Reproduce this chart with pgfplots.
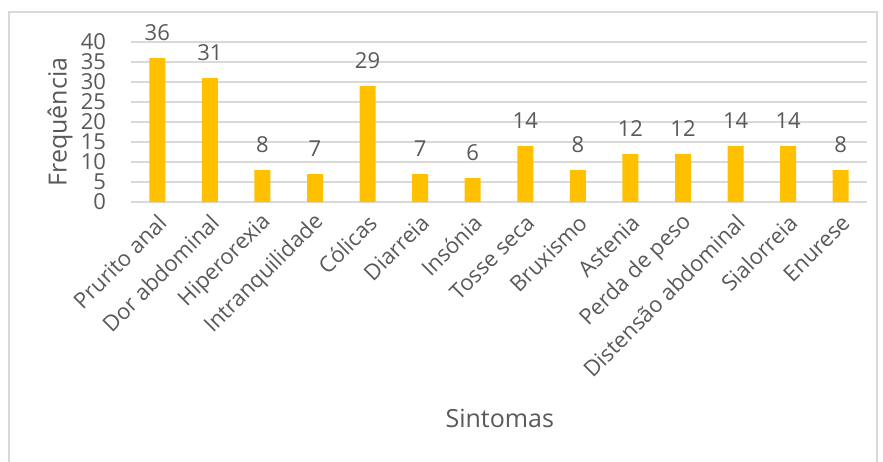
\documentclass[border=0pt]{standalone}
\usepackage{pgfplots}
\pgfplotsset{compat=1.18}
\usepackage{fontspec}
\setmainfont{Open Sans}
\definecolor{barc}{HTML}{FFC000}
\definecolor{txt}{HTML}{595959}
\definecolor{gridc}{HTML}{D9D9D9}
\definecolor{framec}{HTML}{D9D9D9}
\begin{document}
\begin{tikzpicture}[x=1pt,y=1pt]
\useasboundingbox (0,0) rectangle (441.5,230.5);
\draw[framec, line width=0.75pt] (4.6,-2) -- (4.6,224.6) -- (438.6,224.6) -- (438.6,-2);
\begin{axis}[
  at={(65.5pt,129.5pt)}, anchor=south west,
  scale only axis, width=368pt, height=80pt,
  ybar, bar width=8pt,
  xmin=-0.5, xmax=13.5, ymin=0, ymax=40,
  xtick=data,
  xticklabels={Prurito anal,Dor abdominal,Hiperorexia,Intranquilidade,Cólicas,Diarreia,Insónia,Tosse seca,Bruxismo,Astenia,Perda de peso,Distensão abdominal,Sialorreia,Enurese},
  ytick={0,5,...,40},
  ymajorgrids, grid style={gridc, line width=0.6pt},
  axis x line*=bottom, axis y line*=left,
  x axis line style={gridc, line width=0.75pt, -},
  y axis line style={draw=none, -},
  major tick length=0pt,
  /pgf/number format/assume math mode=true,
  tick label style={font=\fontsize{11}{13}\selectfont, text=txt},
  yticklabel style={xshift=-9pt},
  xticklabel style={xshift=5pt, yshift=-6pt, rotate=45, anchor=east},
  ylabel={Frequência}, xlabel={Sintomas},
  label style={font=\fontsize{12.5}{14}\selectfont, text=txt},
  ylabel style={at={(axis description cs:-0.0965,0.5)}, anchor=center, rotate=0},
  xlabel style={at={(axis description cs:0.501,-1.35)}, anchor=center},
  nodes near coords,
  every node near coord/.append style={font=\fontsize{11}{13}\selectfont, text=txt, anchor=center, yshift=12.5pt},
  clip=false,
]
\addplot[fill=barc, draw=none] coordinates {
(0,36) (1,31) (2,8) (3,7) (4,29) (5,7) (6,6) (7,14) (8,8) (9,12) (10,12) (11,14) (12,14) (13,8)};
\end{axis}
\end{tikzpicture}
\end{document}
